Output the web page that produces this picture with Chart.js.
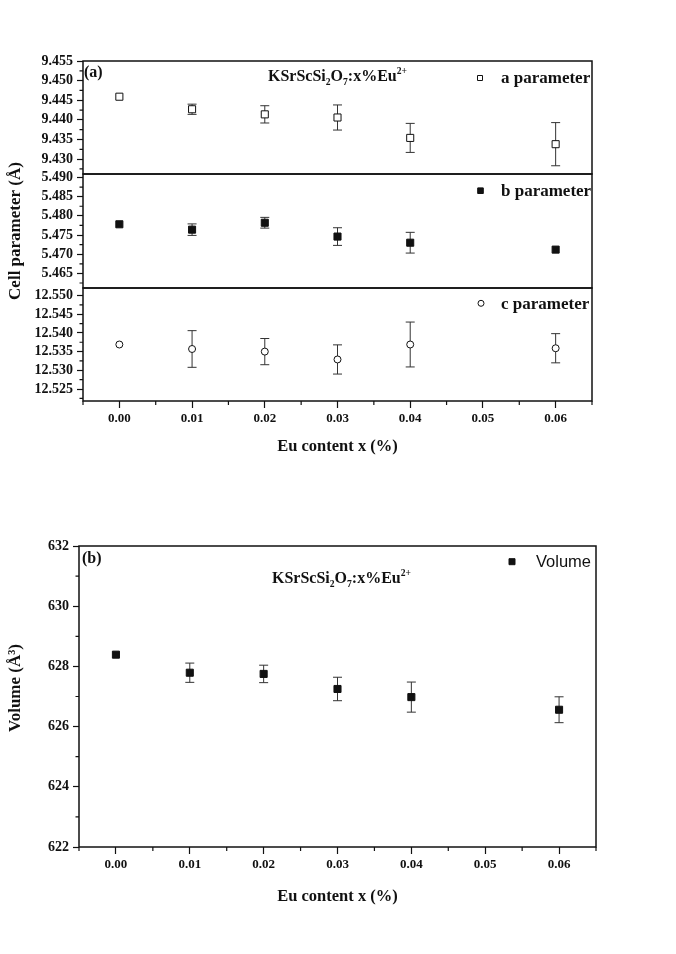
<!DOCTYPE html>
<html>
<head>
<meta charset="utf-8">
<script src="https://cdn.jsdelivr.net/npm/chart.js@4.4.0/dist/chart.umd.min.js"></script>
<style>
    html, body { margin: 0; padding: 0; background: #fff; }
    body { width: 676px; height: 954px; position: relative; overflow: hidden; }
    canvas { position: absolute; left: 0; }
</style>
</head>
<body>
<canvas id="grafA" width="676" height="150" style="top:40px"></canvas>
<canvas id="grafB" width="676" height="200" style="top:140px"></canvas>
<canvas id="grafC" width="676" height="200" style="top:270px"></canvas>
<canvas id="grafV" width="676" height="420" style="top:520px"></canvas>
<script>
// Eu content (x axis)
const euContent = [0.00, 0.01, 0.02, 0.03, 0.04, 0.06];
const xTicks = [0.00, 0.01, 0.02, 0.03, 0.04, 0.05, 0.06];
const xMinor = [-0.005, 0.005, 0.015, 0.025, 0.035, 0.045, 0.055, 0.065];

// cell parameters (Å) and their errors
const paramA = [9.4459, 9.4427, 9.4414, 9.4406, 9.4354, 9.4338];
const paramAErr = [0, 0.0013, 0.0022, 0.0032, 0.0037, 0.0055];
const paramB = [5.4778, 5.4764, 5.4782, 5.4746, 5.4730, 5.4712];
const paramBErr = [0, 0.0015, 0.0014, 0.0023, 0.0027, 0];
const paramC = [12.5369, 12.5357, 12.5350, 12.5329, 12.5369, 12.5359];
const paramCErr = [0, 0.0049, 0.0035, 0.0039, 0.0060, 0.0039];

// cell volume (Å³)
const volume = [628.39, 627.79, 627.75, 627.25, 626.98, 626.56];
const volumeErr = [0, 0.32, 0.29, 0.39, 0.50, 0.43];

// y tick labels
const aTicks = [9.430, 9.435, 9.440, 9.445, 9.450, 9.455];
const bTicks = [5.465, 5.470, 5.475, 5.480, 5.485, 5.490];
const cTicks = [12.525, 12.530, 12.535, 12.540, 12.545, 12.550];
const vTicks = [622, 624, 626, 628, 630, 632];

const SERIF = "'Liberation Serif', 'Times New Roman', serif";
const SANS = "'Liberation Sans', Arial, sans-serif";
const INK = "#111";

const formula = [
    { t: "KSrScSi" }, { t: "2", sub: true }, { t: "O" }, { t: "7", sub: true },
    { t: ":x%Eu" }, { t: "2+", sup: true },
];

// midpoints between the major ticks, used as minor ticks
function minorOf(ticks) {
    const out = [];
    for (let i = 0; i < ticks.length - 1; i++) out.push((ticks[i] + ticks[i + 1]) / 2);
    out.unshift(ticks[0] - (ticks[1] - ticks[0]) / 2);
    return out;
}

function drawRich(ctx, parts, x, y, size) {
    let cx = x;
    parts.forEach((p) => {
        const s = p.sub || p.sup ? size * 0.6 : size;
        ctx.font = "bold " + s + "px " + SERIF;
        const dy = p.sub ? size * 0.3 : p.sup ? -size * 0.42 : 0;
        ctx.fillText(p.t, cx, y + dy);
        cx += ctx.measureText(p.t).width;
    });
}

const panelDecor = {
    id: "panelDecor",
    beforeDatasetsDraw(chart) {
        const { ctx } = chart;
        const xs = chart.scales.x, ys = chart.scales.y;
        chart.data.datasets.forEach((ds) => {
            if (!ds.errors) return;
            ctx.save();
            ctx.strokeStyle = "#333";
            ctx.lineWidth = 1;
            ds.data.forEach((p, i) => {
                const e = ds.errors[i];
                if (!e) return;
                const px = xs.getPixelForValue(p.x);
                const y1 = ys.getPixelForValue(p.y + e);
                const y2 = ys.getPixelForValue(p.y - e);
                ctx.beginPath();
                ctx.moveTo(px, y1); ctx.lineTo(px, y2);
                ctx.moveTo(px - 4.5, y1); ctx.lineTo(px + 4.5, y1);
                ctx.moveTo(px - 4.5, y2); ctx.lineTo(px + 4.5, y2);
                ctx.stroke();
            });
            ctx.restore();
        });
    },
    afterDraw(chart, args, opts) {
        const { ctx, chartArea: a } = chart;
        const xs = chart.scales.x, ys = chart.scales.y;
        const top = opts.top || 0; // canvas offset on the page
        ctx.save();
        ctx.strokeStyle = INK;
        ctx.fillStyle = INK;
        ctx.lineWidth = 1.5;
        ctx.strokeRect(a.left, a.top, a.right - a.left, a.bottom - a.top);

        // minor ticks
        ctx.lineWidth = 1.2;
        ctx.beginPath();
        (opts.yMinor || []).forEach((v) => {
            const py = ys.getPixelForValue(v);
            if (py < a.top - 0.5 || py > a.bottom + 0.5) return;
            ctx.moveTo(a.left, py); ctx.lineTo(a.left - 3.5, py);
        });
        if (opts.xMinor) {
            opts.xMinor.forEach((v) => {
                const px = xs.getPixelForValue(v);
                ctx.moveTo(px, a.bottom); ctx.lineTo(px, a.bottom + 4);
            });
        }
        ctx.stroke();

        // panel letter and formula
        ctx.textBaseline = "alphabetic";
        ctx.textAlign = "left";
        if (opts.letter) {
            ctx.font = "bold 16px " + SERIF;
            ctx.fillText(opts.letter.text, opts.letter.x, opts.letter.y - top);
        }
        if (opts.formula) drawRich(ctx, formula, opts.formula.x, opts.formula.y - top, 16);

        // legend entry
        const lg = opts.legend;
        if (lg) {
            const my = lg.my - top;
            ctx.lineWidth = 1;
            ctx.strokeStyle = INK;
            ctx.fillStyle = lg.fill;
            ctx.beginPath();
            if (lg.style === "circle") ctx.arc(lg.mx, my, lg.radius, 0, Math.PI * 2);
            else ctx.rect(lg.mx - lg.radius, my - lg.radius, lg.radius * 2, lg.radius * 2);
            ctx.fill();
            ctx.stroke();
            ctx.fillStyle = INK;
            ctx.font = lg.font;
            ctx.fillText(lg.text, lg.tx, lg.ty - top);
        }
        ctx.restore();
    },
};

function makeChart(id, o) {
    const showX = !!o.xTitle;
    return new Chart(document.getElementById(id), {
        type: "scatter",
        data: {
            datasets: [{
                data: euContent.map((x, i) => ({ x: x, y: o.values[i] })),
                errors: o.errors,
                pointStyle: o.style,
                pointRadius: o.radius,
                pointHoverRadius: o.radius,
                pointBackgroundColor: o.fill,
                pointBorderColor: INK,
                pointBorderWidth: 1,
                showLine: false,
            }],
        },
        options: {
            responsive: false,
            animation: false,
            devicePixelRatio: 1,
            layout: { padding: o.padding },
            events: [],
            plugins: {
                legend: { display: false },
                tooltip: { enabled: false },
                panelDecor: o.decor,
            },
            scales: {
                x: {
                    type: "linear",
                    min: -0.005,
                    max: 0.065,
                    display: showX,
                    afterBuildTicks: (s) => { s.ticks = xTicks.map((v) => ({ value: v })); },
                    afterFit: (s) => { s.height = o.xHeight || 0; },
                    border: { display: false },
                    grid: { drawOnChartArea: false, tickLength: 7, tickWidth: 1.2, tickColor: INK },
                    ticks: {
                        padding: 3,
                        color: INK,
                        font: { family: SERIF, size: 13, weight: "bold" },
                        callback: (v) => Number(v).toFixed(2),
                    },
                    title: {
                        display: showX,
                        text: o.xTitle || "",
                        color: INK,
                        padding: 0,
                        font: { family: SERIF, size: 16.5, weight: "bold" },
                    },
                },
                y: {
                    min: o.yMin,
                    max: o.yMax,
                    afterBuildTicks: (s) => { s.ticks = o.ticks.map((v) => ({ value: v })); },
                    afterFit: (s) => { s.width = o.yWidth; },
                    border: { display: false },
                    grid: { drawOnChartArea: false, tickLength: 6, tickWidth: 1.2, tickColor: INK },
                    ticks: {
                        padding: 4,
                        color: INK,
                        font: { family: SERIF, size: 14, weight: "bold" },
                        callback: (v) => Number(v).toFixed(o.digits),
                    },
                    title: {
                        display: !!o.yTitle,
                        text: o.yTitle || "",
                        color: INK,
                        padding: { top: 5, bottom: 0 },
                        font: { family: SERIF, size: 17, weight: "bold" },
                    },
                },
            },
        },
        plugins: [panelDecor],
    });
}

const legendFont = "bold 17px " + SERIF;

// (a) a parameter
makeChart("grafA", {
    values: paramA, errors: paramAErr, style: "rect", radius: 5, fill: "#fff",
    yMin: 9.4262, yMax: 9.455, ticks: aTicks, digits: 3, yWidth: 83,
    padding: { top: 21, bottom: 16, left: 0, right: 84 },
    decor: {
        top: 40,
        yMinor: minorOf(aTicks),
        letter: { text: "(a)", x: 84, y: 77 },
        formula: { x: 268, y: 80.5 },
        legend: { style: "rect", radius: 2.5, fill: "#fff", mx: 480, my: 78, text: "a parameter", tx: 501, ty: 83, font: legendFont },
    },
});

// b parameter
makeChart("grafB", {
    values: paramB, errors: paramBErr, style: "rect", radius: 5, fill: INK,
    yMin: 5.4612, yMax: 5.4909, ticks: bTicks, digits: 3, yWidth: 83,
    yTitle: "Cell parameter (Å)",
    padding: { top: 34, bottom: 52, left: 0, right: 84 },
    decor: {
        top: 140,
        yMinor: minorOf(bTicks),
        legend: { style: "rect", radius: 2.8, fill: INK, mx: 480.5, my: 190.7, text: "b parameter", tx: 501, ty: 196, font: legendFont },
    },
});

// c parameter
makeChart("grafC", {
    values: paramC, errors: paramCErr, style: "circle", radius: 3.5, fill: "#fff",
    yMin: 12.5218, yMax: 12.552, ticks: cTicks, digits: 3, yWidth: 83,
    xTitle: "Eu content x (%)", xHeight: 56,
    padding: { top: 18, bottom: 13, left: 0, right: 84 },
    decor: {
        top: 270,
        yMinor: minorOf(cTicks),
        xMinor: xMinor,
        legend: { style: "circle", radius: 3, fill: "#fff", mx: 481, my: 303.3, text: "c parameter", tx: 501, ty: 308.5, font: legendFont },
    },
});

// (b) volume
makeChart("grafV", {
    values: volume, errors: volumeErr, style: "rect", radius: 5, fill: INK,
    yMin: 622, yMax: 632, ticks: vTicks, digits: 0, yWidth: 79,
    yTitle: "    Volume (Å³)",
    xTitle: "Eu content x (%)", xHeight: 60,
    padding: { top: 26, bottom: 33, left: 0, right: 80 },
    decor: {
        top: 520,
        yMinor: minorOf(vTicks),
        xMinor: xMinor,
        letter: { text: "(b)", x: 82, y: 563 },
        formula: { x: 272, y: 582.5 },
        legend: { style: "rect", radius: 3, fill: INK, mx: 512, my: 561.7, text: "Volume", tx: 536, ty: 567, font: "16.5px " + SANS },
    },
});
</script>
</body>
</html>
